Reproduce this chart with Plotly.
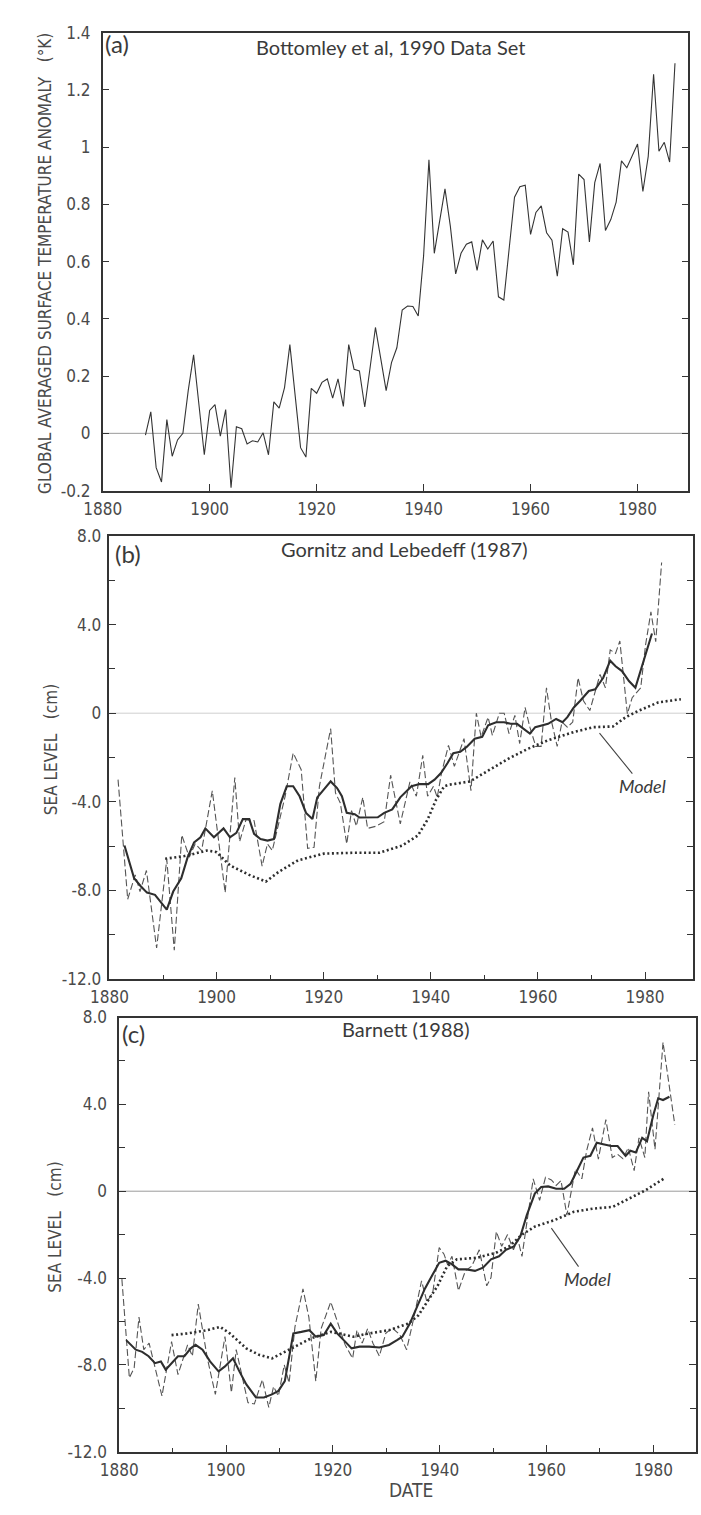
import plotly.graph_objects as go

W, H = 701, 1515

# ---------------- Panel (a): Bottomley et al, 1990 ----------------
temp_years = list(range(1888, 1988))
temp_anom = [
    -0.006, 0.075, -0.12, -0.17, 0.048, -0.08, -0.023, 0.0, 0.15, 0.274,
    0.10, -0.075, 0.08, 0.10, -0.01, 0.083, -0.19, 0.023, 0.016, -0.037,
    -0.026, -0.03, 0.002, -0.075, 0.11, 0.088, 0.16, 0.31, 0.13, -0.05,
    -0.083, 0.157, 0.14, 0.178, 0.19, 0.123, 0.19, 0.094, 0.31, 0.224,
    0.218, 0.092, 0.23, 0.37, 0.26, 0.149, 0.247, 0.299, 0.431, 0.445,
    0.443, 0.41, 0.62, 0.956, 0.629, 0.74, 0.854, 0.724, 0.557, 0.629,
    0.661, 0.669, 0.569, 0.676, 0.644, 0.672, 0.477, 0.466, 0.645, 0.825,
    0.862, 0.867, 0.695, 0.772, 0.795, 0.701, 0.675, 0.549, 0.715, 0.703,
    0.589, 0.906, 0.887, 0.669, 0.876, 0.943, 0.709, 0.747, 0.808, 0.952,
    0.928, 0.971, 1.011, 0.845, 0.968, 1.255, 0.986, 1.017, 0.948, 1.293,
]
a_ytickvals = [-0.2, 0, 0.2, 0.4, 0.6, 0.8, 1.0, 1.2, 1.4]
a_yticktext = ["-0.2", "0", "0.2", "0.4", "0.6", "0.8", "1", "1.2", "1.4"]

# ---------------- Panel (b): Gornitz and Lebedeff (1987) ----------------
gl_annual_years = [
    1881.6, 1883.4, 1884.8, 1885.7, 1886.9, 1888.8, 1890.7, 1892.1, 1893.5, 1894.9,
    1896.0, 1897.2, 1899.2, 1900.4, 1901.6, 1903.4, 1904.3, 1905.5, 1907.0, 1908.5,
    1909.5, 1910.4, 1912.8, 1914.3, 1915.8, 1917.0, 1918.2, 1919.2, 1921.3, 1922.2,
    1923.1, 1924.3, 1925.2, 1926.1, 1927.3, 1928.2, 1929.8, 1931.3, 1932.5, 1934.3,
    1936.1, 1937.3, 1938.5, 1939.4, 1940.5, 1941.2, 1942.0, 1943.3, 1944.4, 1946.2,
    1947.5, 1948.5, 1949.4, 1950.7, 1951.5, 1952.8, 1953.7, 1954.6, 1955.7, 1956.6,
    1957.6, 1958.5, 1959.6, 1960.6, 1961.6, 1962.5, 1963.6, 1964.5, 1965.5, 1966.5,
    1967.5, 1968.5, 1969.7, 1971.6, 1972.6, 1973.5, 1974.5, 1975.3, 1976.7, 1977.6,
    1979.2, 1980.1, 1981.1, 1982.0, 1983.1,
]
gl_annual = [
    -3.0, -8.4, -7.3, -8.05, -7.1, -10.6, -6.6, -10.7, -5.5, -6.5,
    -5.9, -6.2, -3.5, -5.8, -8.1, -2.9, -5.8, -4.8, -4.85, -6.9,
    -5.9, -6.2, -3.75, -1.8, -2.55, -6.1, -6.05, -3.3, -0.7, -3.6,
    -4.05, -5.9, -4.4, -5.1, -3.8, -5.2, -5.1, -4.9, -2.8, -5.0,
    -3.1, -3.75, -1.9, -3.75, -3.3, -3.8, -2.7, -1.45, -2.4, -1.15,
    -3.5, 0.0, -1.07, -0.18, -1.0, 0.0, 0.0, -0.92, -0.1, -1.37,
    0.26, -0.63, -1.5, -1.5, 1.15, -0.33, -1.5, -0.4, -0.63, -0.4,
    1.6, 0.56, 0.12, 1.75, 1.15, 2.86, 2.7, 3.26, -0.03, 0.7,
    1.15, 3.08, 4.57, 3.23, 6.8,
]
gl_smooth_years = [
    1882.8, 1884.6, 1885.8, 1887.0, 1888.5, 1889.5, 1890.7, 1891.9, 1893.4, 1894.6,
    1895.8, 1897.0, 1897.9, 1899.5, 1901.3, 1902.5, 1903.7, 1904.9, 1906.1, 1907.0,
    1908.2, 1909.5, 1910.7, 1911.9, 1913.1, 1914.3, 1915.5, 1916.7, 1917.9, 1918.8,
    1920.0, 1921.3, 1922.5, 1923.4, 1924.3, 1925.8, 1926.7, 1928.5, 1930.1, 1931.3,
    1932.8, 1934.3, 1936.4, 1937.9, 1939.5, 1940.7, 1941.9, 1943.1, 1944.2, 1945.5,
    1946.7, 1948.2, 1949.6, 1950.7, 1952.2, 1953.7, 1954.9, 1956.1, 1957.3, 1958.5,
    1959.5, 1960.7, 1961.9, 1963.4, 1964.6, 1965.5, 1966.7, 1967.9, 1969.5, 1970.7,
    1972.2, 1973.5, 1974.5, 1975.7, 1977.0, 1978.2, 1979.4, 1981.3,
]
gl_smooth = [
    -5.97, -7.45, -7.8, -8.1, -8.2, -8.5, -8.87, -8.05, -7.45, -6.5,
    -5.83, -5.6, -5.2, -5.6, -5.2, -5.6, -5.4, -4.78, -4.78, -5.45,
    -5.68, -5.75, -5.68, -4.1, -3.3, -3.3, -3.75, -4.5, -4.78, -3.8,
    -3.45, -3.08, -3.38, -3.75, -4.5, -4.56, -4.71, -4.71, -4.7, -4.5,
    -4.34, -3.8, -3.3, -3.2, -3.2, -3.0, -2.7, -2.26, -1.81, -1.74,
    -1.52, -1.15, -1.07, -0.55, -0.41, -0.41, -0.48, -0.48, -0.7, -0.92,
    -0.63, -0.55, -0.48, -0.26, -0.41, -0.18, 0.26, 0.56, 1.0, 1.08,
    1.6, 2.37, 2.12, 1.9, 1.45, 1.15, 2.12, 3.6,
]
gl_model_years = [
    1890.4, 1894.0, 1898.2, 1900.0, 1902.5, 1906.1, 1909.2, 1911.6, 1915.2, 1920.0,
    1925.5, 1930.4, 1934.6, 1937.6, 1939.4, 1941.0, 1942.5, 1943.4, 1947.3, 1951.0,
    1954.6, 1958.2, 1961.9, 1966.7, 1970.4, 1974.0, 1976.4, 1978.8, 1982.5, 1986.7,
]
gl_model = [
    -6.57, -6.45, -6.2, -6.27, -6.87, -7.3, -7.6, -7.16, -6.64, -6.34,
    -6.3, -6.3, -5.98, -5.52, -4.8, -3.9, -3.3, -3.23, -3.08, -2.56,
    -2.04, -1.6, -1.22, -0.85, -0.63, -0.6, -0.18, 0.11, 0.49, 0.63,
]

# ---------------- Panel (c): Barnett (1988) ----------------
ba_annual_years = [
    1880.5, 1881.9, 1882.8, 1883.7, 1884.6, 1885.6, 1888.0, 1889.8, 1891.0, 1892.8,
    1893.7, 1894.8, 1896.5, 1898.0, 1899.8, 1901.0, 1901.9, 1904.1, 1905.3, 1906.8,
    1908.0, 1908.9, 1909.8, 1910.9, 1911.8, 1912.9, 1914.4, 1915.5, 1916.8, 1917.8,
    1919.6, 1920.8, 1922.3, 1923.7, 1924.5, 1925.5, 1926.5, 1927.5, 1928.7, 1929.9,
    1931.1, 1932.5, 1933.8, 1935.0, 1936.6, 1937.6, 1938.7, 1939.9, 1940.8, 1941.5,
    1942.3, 1943.5, 1944.8, 1946.0, 1947.4, 1948.8, 1949.6, 1950.6, 1951.6, 1952.7,
    1953.8, 1954.6, 1955.4, 1957.5, 1958.7, 1959.8, 1960.9, 1961.8, 1962.7, 1963.8,
    1965.4, 1966.6, 1967.5, 1968.6, 1969.7, 1971.1, 1972.3, 1973.3, 1974.3, 1975.3,
    1976.4, 1977.3, 1978.4, 1979.1, 1980.3, 1981.8, 1983.0, 1984.0,
]
ba_annual = [
    -4.05, -8.6, -8.14, -5.8, -7.3, -7.0, -9.43, -6.93, -8.45, -7.08,
    -7.6, -5.2, -7.7, -9.36, -6.7, -9.28, -7.3, -9.74, -9.8, -8.68,
    -9.96, -9.0, -9.43, -8.0, -8.83, -6.25, -4.5, -5.8, -8.75, -6.33,
    -5.1, -5.95, -7.08, -7.7, -6.4, -7.0, -6.33, -7.0, -7.6, -6.55,
    -6.3, -6.6, -7.3, -6.0, -4.13, -5.1, -4.66, -2.6, -2.9, -3.4,
    -3.0, -4.58, -3.67, -3.45, -2.7, -4.36, -3.98, -1.86, -2.54, -2.0,
    -2.7, -2.2, -3.0, 0.57, -0.42, 0.64, 0.52, 0.27, 0.49, -1.1,
    1.02, 0.57, 1.86, 2.92, 1.48, 3.3, 1.55, 1.7, 1.5, 2.0,
    0.95, 2.46, 1.55, 4.58, 1.93, 6.86, 4.8, 3.07,
]
ba_smooth_years = [
    1881.3, 1883.1, 1884.3, 1885.5, 1886.7, 1887.8, 1888.7, 1889.8, 1891.0, 1892.2,
    1893.4, 1894.3, 1895.6, 1897.0, 1898.6, 1899.8, 1901.3, 1902.5, 1903.8, 1905.6,
    1907.1, 1908.6, 1909.8, 1911.0, 1912.6, 1914.1, 1915.6, 1916.8, 1918.3, 1919.6,
    1920.8, 1922.3, 1923.5, 1925.0, 1926.8, 1928.7, 1930.5, 1932.0, 1933.0, 1934.4,
    1935.9, 1937.2, 1938.7, 1939.9, 1941.1, 1942.3, 1943.5, 1945.0, 1946.6, 1948.1,
    1949.6, 1951.1, 1952.4, 1953.9, 1955.1, 1956.3, 1957.8, 1959.0, 1960.3, 1961.8,
    1963.3, 1964.5, 1965.7, 1966.9, 1968.2, 1969.4, 1970.6, 1972.1, 1973.3, 1974.8,
    1975.7, 1976.7, 1977.9, 1978.8, 1980.0, 1980.9, 1981.8, 1983.0,
]
ba_smooth = [
    -6.86, -7.3, -7.4, -7.6, -7.92, -7.84, -8.22, -7.92, -7.6, -7.6,
    -7.24, -7.08, -7.3, -7.84, -8.3, -8.07, -7.7, -8.3, -8.9, -9.5,
    -9.5, -9.36, -9.2, -8.75, -6.55, -6.48, -6.4, -6.7, -6.63, -6.1,
    -6.55, -6.93, -7.24, -7.16, -7.16, -7.2, -7.08, -6.86, -6.7, -6.1,
    -5.2, -4.5, -3.83, -3.3, -3.2, -3.37, -3.6, -3.6, -3.67, -3.52,
    -3.14, -3.0, -2.7, -2.54, -2.08, -1.1, -0.11, 0.19, 0.22, 0.11,
    0.11, 0.34, 0.94, 1.55, 1.63, 2.23, 2.16, 2.08, 2.08, 1.63,
    1.86, 1.78, 2.46, 2.3, 3.52, 4.28, 4.2, 4.35,
]
ba_model_years = [
    1889.8, 1892.8, 1896.5, 1898.9, 1900.7, 1903.8, 1906.2, 1908.6, 1911.0, 1913.5,
    1915.9, 1919.6, 1923.8, 1926.8, 1930.5, 1934.1, 1936.0, 1937.8, 1939.6, 1941.4,
    1943.2, 1946.9, 1950.5, 1953.0, 1955.4, 1957.8, 1961.5, 1965.1, 1968.8, 1972.4,
    1974.8, 1978.5, 1982.1,
]
ba_model = [
    -6.63, -6.55, -6.4, -6.25, -6.55, -7.24, -7.54, -7.7, -7.4, -7.08,
    -6.78, -6.48, -6.7, -6.55, -6.4, -6.1, -5.72, -5.04, -4.36, -3.45,
    -3.14, -3.07, -2.84, -2.54, -2.0, -1.63, -1.33, -0.95, -0.8, -0.72,
    -0.42, 0.04, 0.6,
]

sl_ytickvals = [-12, -8, -4, 0, 4, 8]
sl_yticktext = ["-12.0", "-8.0", "-4.0", "0", "4.0", "8.0"]
xtickvals = [1880, 1900, 1920, 1940, 1960, 1980]
xticktext = ["1880", "1900", "1920", "1940", "1960", "1980"]

# ---------------- figure ----------------
def px(x):
    return x / W


def py(y):
    return 1 - y / H


INK = "#343434"
NARROW = "Liberation Sans Narrow, DejaVu Sans Condensed, Liberation Sans, sans-serif"
TICKFONT = dict(family=NARROW, size=17, color="#4a4a4a")
TITLEFONT = "Lato, Open Sans, sans-serif"

fig = go.Figure()

fig.add_trace(go.Scatter(x=temp_years, y=temp_anom, mode="lines",
                         line=dict(color=INK, width=1.1), xaxis="x", yaxis="y"))


def add_sl(annual_x, annual_y, sm_x, sm_y, mo_x, mo_y, xa, ya):
    fig.add_trace(go.Scatter(x=annual_x, y=annual_y, mode="lines",
                             line=dict(color="#555", width=1.1, dash="7px,3px"),
                             xaxis=xa, yaxis=ya))
    fig.add_trace(go.Scatter(x=sm_x, y=sm_y, mode="lines",
                             line=dict(color="#2e2e2e", width=2.1),
                             xaxis=xa, yaxis=ya))
    fig.add_trace(go.Scatter(x=mo_x, y=mo_y, mode="lines",
                             line=dict(color="#2e2e2e", width=2.6, dash="2px,2.6px"),
                             xaxis=xa, yaxis=ya))


add_sl(gl_annual_years, gl_annual, gl_smooth_years, gl_smooth,
       gl_model_years, gl_model, "x2", "y2")
add_sl(ba_annual_years, ba_annual, ba_smooth_years, ba_smooth,
       ba_model_years, ba_model, "x3", "y3")


def xaxis_cfg(dom, rng, anchor, minor):
    d = dict(domain=dom, range=rng, anchor=anchor, showgrid=False, zeroline=False,
             showline=True, linecolor=INK, linewidth=1.5, mirror=True,
             ticks="inside", ticklen=7, tickwidth=1.2, tickcolor=INK,
             tickmode="array", tickvals=xtickvals, ticktext=xticktext,
             tickfont=TICKFONT, ticklabelstandoff=2)
    if minor:
        d["minor"] = dict(dtick=10, tick0=1880, ticks="inside", ticklen=4,
                          tickwidth=1.2, tickcolor=INK, showgrid=False)
    return d


def yaxis_cfg(dom, rng, anchor, vals, text, minor, standoff):
    d = dict(domain=dom, range=rng, anchor=anchor, showgrid=False, zeroline=False,
             showline=True, linecolor=INK, linewidth=1.5, mirror="ticks",
             ticks="inside", ticklen=7, tickwidth=1.2, tickcolor=INK,
             tickmode="array", tickvals=vals, ticktext=text,
             tickfont=TICKFONT, ticklabelstandoff=standoff)
    if minor:
        d["minor"] = dict(dtick=2, tick0=0, ticks="inside", ticklen=6,
                          tickwidth=1.2, tickcolor=INK, showgrid=False)
    return d


fig.update_layout(
    width=W, height=H, autosize=False,
    margin=dict(l=0, r=0, t=0, b=0),
    paper_bgcolor="white", plot_bgcolor="white",
    showlegend=False,
    xaxis=xaxis_cfg([px(86), px(688)], [1880, 1989.5], "y", False),
    yaxis=yaxis_cfg([py(487), py(23)], [-0.2, 1.4], "x", a_ytickvals, a_yticktext, False, 7),
    xaxis2=xaxis_cfg([px(93), px(693)], [1880, 1989], "y2", True),
    yaxis2=yaxis_cfg([py(982), py(533)], [-12, 8], "x2", sl_ytickvals, sl_yticktext, True, 3),
    xaxis3=xaxis_cfg([px(103), px(696)], [1880, 1988], "y3", True),
    yaxis3=yaxis_cfg([py(1461), py(1021)], [-12, 8], "x3", sl_ytickvals, sl_yticktext, True, 7),
)

# zero reference lines
for xr, yr, col in [("x domain", "y", "#9a9a9a"), ("x2 domain", "y2", "#cfcfcf"),
                    ("x3 domain", "y3", "#9a9a9a")]:
    fig.add_shape(type="line", xref=xr, yref=yr, x0=0, x1=1, y0=0, y1=0,
                  line=dict(color=col, width=1), layer="below")

ann = []


def text(x, y, s, size, family=TITLEFONT, color="#3a3a3a", angle=0):
    ann.append(dict(x=px(x), y=py(y), xref="paper", yref="paper", text=s,
                    showarrow=False, xanchor="center", yanchor="middle",
                    textangle=angle, font=dict(family=family, size=size, color=color)))


text(382, 37, "Bottomley et al, 1990 Data Set", 20)
text(101, 34, "(a)", 24)
text(396, 546, "Gornitz and Lebedeff (1987)", 20)
text(112, 551, "(b)", 24)
text(398, 1033, "Barnett (1988)", 20)
text(118, 1037, "(c)", 24)
text(26, 257, "GLOBAL AVERAGED SURFACE TEMPERATURE ANOMALY&nbsp;&nbsp;&nbsp;(°K)", 17,
     family=NARROW, color="#4a4a4a", angle=-90)
text(33, 750, "SEA LEVEL&nbsp;&nbsp;&nbsp;(cm)", 17, family=NARROW, color="#4a4a4a", angle=-90)
text(37, 1233, "SEA LEVEL&nbsp;&nbsp;&nbsp;(cm)", 17, family=NARROW, color="#4a4a4a", angle=-90)
text(403, 1500, "DATE", 19, family=NARROW, color="#4a4a4a")

# Model labels with pointer lines
ann.append(dict(x=1971.5, y=-0.9, xref="x2", yref="y2", text="<i>Model</i>",
                showarrow=True, arrowhead=0, arrowwidth=1.1, arrowcolor="#444",
                ax=43, ay=53, standoff=0,
                font=dict(family=TITLEFONT, size=18, color="#3a3a3a")))
ann.append(dict(x=1960.9, y=-1.7, xref="x3", yref="y3", text="<i>Model</i>",
                showarrow=True, arrowhead=0, arrowwidth=1.1, arrowcolor="#444",
                ax=36, ay=51, standoff=0,
                font=dict(family=TITLEFONT, size=18, color="#3a3a3a")))

fig.update_layout(annotations=ann)

fig.write_html("out.html")
